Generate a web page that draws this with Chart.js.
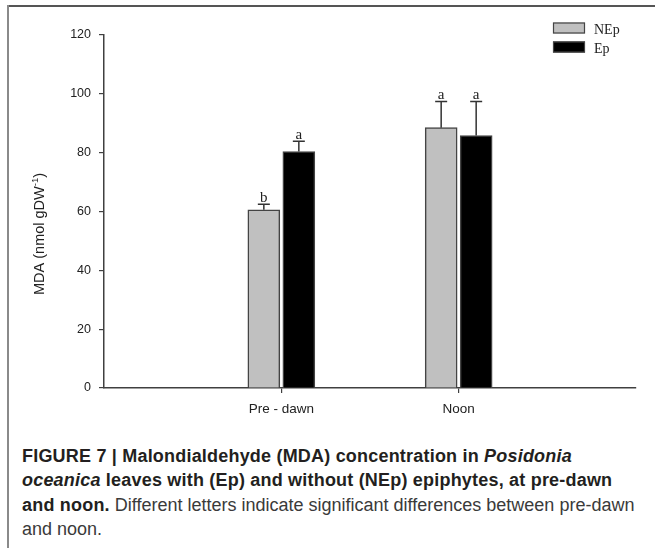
<!DOCTYPE html>
<html>
<head>
<meta charset="utf-8">
<script src="https://cdn.jsdelivr.net/npm/chart.js@4.4.1/dist/chart.umd.min.js"></script>
<style>
  html, body { margin: 0; padding: 0; background: #fff; }
  body { width: 655px; height: 548px; position: relative; overflow: hidden; }
  #frameTop { position: absolute; left: 7px; top: 5px; width: 648px; height: 2px; background: #555; }
  #frameLeft { position: absolute; left: 7px; top: 5px; width: 2px; height: 543px; background: #8a8a8a; }
  #chartBox { position: absolute; left: 0; top: 0; width: 655px; height: 430px; }
  #caption {
    position: absolute; left: 22px; top: 443.5px;
    font-family: "Liberation Sans", Arial, sans-serif;
    font-size: 18px; line-height: 24.5px; color: #3a3a3a;
    white-space: nowrap;
  }
  #caption b { color: #231f20; letter-spacing: 0.2px; }
</style>
</head>
<body>
<div id="frameTop"></div>
<div id="frameLeft"></div>
<div id="chartBox"><canvas id="mdaChart"></canvas></div>
<div id="caption">
  <b>FIGURE 7 | Malondialdehyde (MDA) concentration in <i>Posidonia</i></b><br>
  <b><i>oceanica</i> leaves with (Ep) and without (NEp) epiphytes, at pre-dawn</b><br>
  <b>and noon.</b> Different letters indicate significant differences between pre-dawn<br>
  and noon.
</div>
<script>
// データ
const categories = ['Pre - dawn', 'Noon'];
const seriesNames = ['NEp', 'Ep'];
const nepValues = [60.6, 88.5];
const epValues = [80.4, 85.8];
const nepErrors = [1.9, 8.9];
const epErrors = [3.5, 11.6];
const nepLetters = ['b', 'a'];
const epLetters = ['a', 'a'];
const yTicks = [0, 20, 40, 60, 80, 100, 120];

const axisColor = '#404040';
const errors = [nepErrors, epErrors];
const letters = [nepLetters, epLetters];

// エラーバーと文字
const errorBarPlugin = {
    id: 'errorBars',
    afterDatasetsDraw(chart) {
        const ctx = chart.ctx;
        const yScale = chart.scales.y;
        ctx.save();
        chart.data.datasets.forEach((ds, i) => {
            const meta = chart.getDatasetMeta(i);
            meta.data.forEach((bar, j) => {
                const v = ds.data[j].y;
                const top = yScale.getPixelForValue(v + errors[i][j]);
                ctx.strokeStyle = '#333';
                ctx.lineWidth = 1.5;
                ctx.beginPath();
                ctx.moveTo(bar.x, bar.y);
                ctx.lineTo(bar.x, top);
                ctx.moveTo(bar.x - 6, top);
                ctx.lineTo(bar.x + 6, top);
                ctx.stroke();
                ctx.fillStyle = '#222';
                ctx.font = '15px "Liberation Serif", serif';
                ctx.textAlign = 'center';
                ctx.textBaseline = 'alphabetic';
                ctx.fillText(letters[i][j], bar.x, top - 2.5);
            });
        });
        ctx.restore();
    }
};

// 凡例とy軸タイトル
const decorPlugin = {
    id: 'decor',
    afterDraw(chart) {
        const ctx = chart.ctx;
        ctx.save();
        chart.data.datasets.forEach((ds, i) => {
            const y = 22.5 + i * 19;
            ctx.fillStyle = ds.backgroundColor;
            ctx.fillRect(553, y, 32, 11);
            ctx.strokeStyle = '#444';
            ctx.lineWidth = 1.2;
            ctx.strokeRect(553.5, y + 0.5, 31, 10);
            ctx.fillStyle = '#222';
            ctx.font = '14px "Liberation Serif", serif';
            ctx.textAlign = 'left';
            ctx.textBaseline = 'alphabetic';
            ctx.fillText(ds.label, 594, y + 11);
        });

        // y軸タイトル
        ctx.translate(39, 234);
        ctx.rotate(-Math.PI / 2);
        ctx.fillStyle = '#222';
        const main = 'MDA (nmol gDW';
        const sup = '-1';
        const end = ')';
        ctx.font = '14.5px "Liberation Sans", Arial, sans-serif';
        const w1 = ctx.measureText(main).width;
        const w3 = ctx.measureText(end).width;
        ctx.font = '9.5px "Liberation Sans", Arial, sans-serif';
        const w2 = ctx.measureText(sup).width;
        let x = -(w1 + w2 + w3) / 2;
        ctx.textBaseline = 'alphabetic';
        ctx.textAlign = 'left';
        ctx.font = '14.5px "Liberation Sans", Arial, sans-serif';
        ctx.fillText(main, x, 5);
        ctx.font = '9.5px "Liberation Sans", Arial, sans-serif';
        ctx.fillText(sup, x + w1, -1);
        ctx.font = '14.5px "Liberation Sans", Arial, sans-serif';
        ctx.fillText(end, x + w1 + w2, 5);
        ctx.restore();
    }
};

const barStyle = {
    barThickness: 35,
    maxBarThickness: 32,
    borderWidth: 1.5,
    borderColor: '#444',
    borderSkipped: 'start'
};

new Chart(document.getElementById('mdaChart'), {
    type: 'bar',
    data: {
        datasets: [
            Object.assign({
                label: seriesNames[0],
                data: nepValues.map((v, i) => ({ x: i + 1, y: v })),
                backgroundColor: '#c0c0c0'
            }, barStyle),
            Object.assign({
                label: seriesNames[1],
                data: epValues.map((v, i) => ({ x: i + 1, y: v })),
                backgroundColor: '#000000'
            }, barStyle)
        ]
    },
    options: {
        responsive: true,
        maintainAspectRatio: false,
        animation: false,
        layout: { padding: { top: 35, right: 19, left: 0, bottom: 0 } },
        plugins: {
            legend: { display: false },
            tooltip: { enabled: false }
        },
        scales: {
            x: {
                type: 'linear',
                min: 0,
                max: 3,
                offset: false,
                afterFit(scale) { scale.height = 42; },
                afterBuildTicks(scale) {
                    scale.ticks = [0, 1, 2, 3].map(v => ({ value: v }));
                },
                ticks: {
                    autoSkip: false,
                    maxRotation: 0,
                    padding: 8,
                    color: '#222',
                    font: { family: '"Liberation Sans", Arial, sans-serif', size: 13.5 },
                    callback: v => categories[v - 1] || ''
                },
                grid: {
                    offset: false,
                    drawOnChartArea: false,
                    tickLength: 5,
                    lineWidth: 1.2,
                    tickColor: c => (c.tick && (c.tick.value === 1 || c.tick.value === 2)) ? axisColor : 'rgba(0,0,0,0)'
                },
                border: { color: axisColor, width: 1.5 }
            },
            y: {
                min: 0,
                max: 120,
                afterFit(scale) { scale.width = 104; },
                afterBuildTicks(scale) {
                    scale.ticks = yTicks.map(v => ({ value: v }));
                },
                ticks: {
                    padding: 8,
                    color: '#222',
                    font: { family: '"Liberation Sans", Arial, sans-serif', size: 12.5 }
                },
                grid: {
                    drawOnChartArea: false,
                    tickLength: 5,
                    lineWidth: 1.2,
                    tickColor: axisColor
                },
                border: { color: axisColor, width: 1.5 }
            }
        }
    },
    plugins: [errorBarPlugin, decorPlugin]
});
</script>
</body>
</html>
